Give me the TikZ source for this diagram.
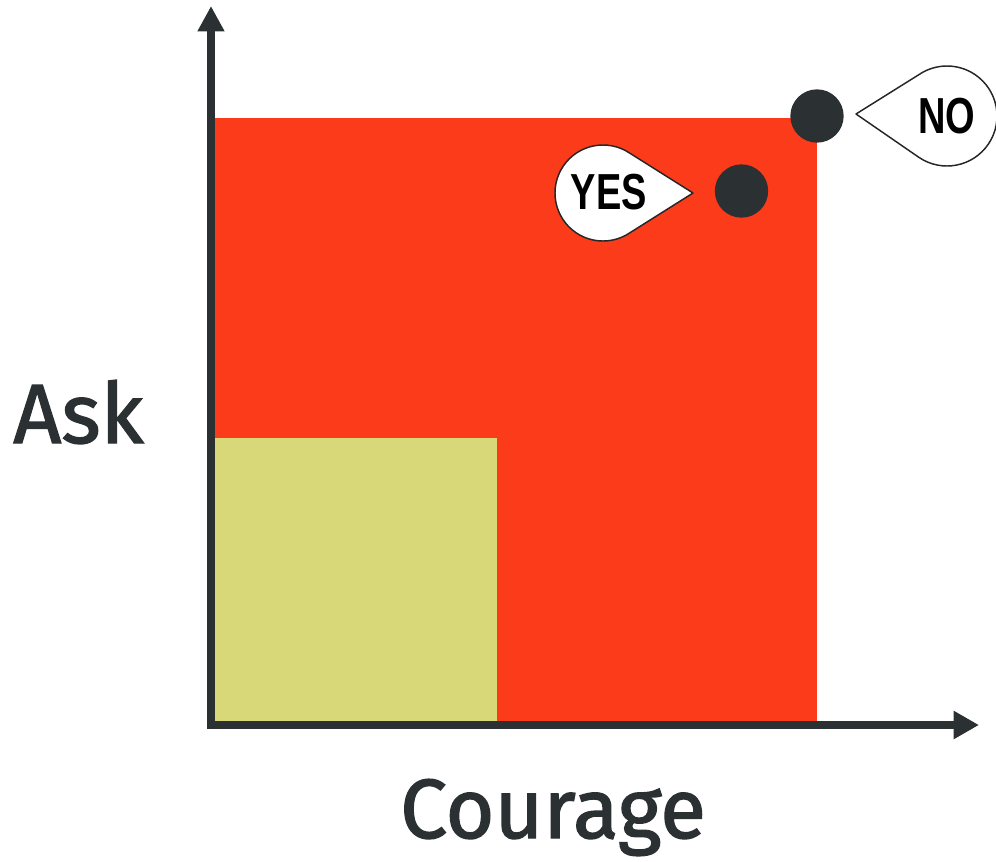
\documentclass[tikz,border=0pt]{standalone}
\usepackage{fontspec}
\usepackage{graphicx}
\setmainfont{Fira Sans}
\newfontfamily\labelfont{Fira Sans}[FakeBold=1.6]
\newfontfamily\bubblefont{Liberation Sans}[BoldFont={* Bold}]
\usetikzlibrary{arrows.meta,calc}
\definecolor{askred}{RGB}{252,59,26}
\definecolor{askyellow}{RGB}{217,216,120}
\definecolor{inkdark}{RGB}{43,48,51}
\tikzset{
  axisline/.style={draw=inkdark,line width=5.5pt,line join=miter,
    {Triangle[length=19pt,width=19pt]}-{Triangle[length=19pt,width=20pt]}},
  bubble/.style={draw=black!85,fill=white,line width=1.1pt,line join=round},
  bubbletext/.style={font=\bubblefont\bfseries\fontsize{38}{40}\selectfont,text=black,inner sep=0pt},
  dot/.style={fill=inkdark,draw=none},
  axislabel/.style={font=\labelfont\fontsize{63}{70}\selectfont,text=inkdark,inner sep=0pt}
}
\begin{document}
\begin{tikzpicture}[x=0.75pt,y=-0.75pt]
\useasboundingbox (0,0) rectangle (996,861);
% regions
\fill[askred] (211,118) rectangle (817,725);
\fill[askyellow] (211,438) rectangle (497,725);
% axes
\coordinate (ytip) at (211,6);
\coordinate (corner) at (211,725);
\coordinate (xtip) at (979,725);
\draw[axisline] (ytip) -- (corner) -- (xtip);
% dots
\coordinate (nodot) at (817,116);
\coordinate (yesdot) at (741.5,191);
\fill[dot] (nodot) circle[radius=20pt];
\fill[dot] (yesdot) circle[radius=20pt];
% YES bubble
\coordinate (yc) at (603,193);
\coordinate (ytail) at (693,193);
\draw[bubble] (ytail) -- ($(yc)+(56:36pt)$) arc[start angle=56,end angle=304,radius=36pt] -- cycle;
\node[bubbletext] (yes) at (609,192) {\scalebox{0.75}[1]{YES}};
% NO bubble
\coordinate (nc) at (947,116);
\coordinate (ntail) at (856,114);
\draw[bubble] (ntail) -- ($(nc)+(236:37.5pt)$) arc[start angle=236,end angle=484,radius=37.5pt] -- cycle;
\node[bubbletext] (no) at (947,116) {\scalebox{0.75}[1]{NO}};
% labels
\node[axislabel,anchor=base west] (ask) at (13,443) {Ask};
\node[axislabel,anchor=base] (courage) at (553,838) {Courage};
\end{tikzpicture}
\end{document}
